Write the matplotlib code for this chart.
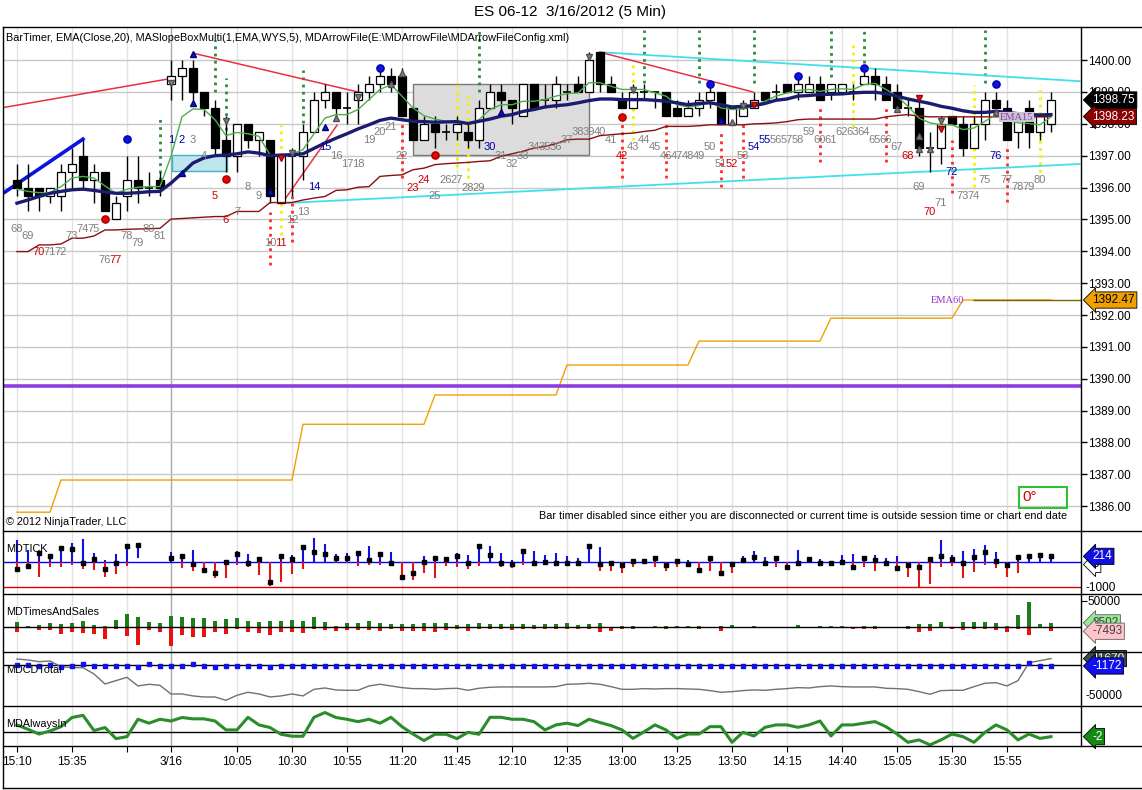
import numpy as np
import matplotlib
matplotlib.use('Agg')
import matplotlib.pyplot as plt
from matplotlib.patches import Rectangle
from matplotlib.lines import Line2D

plt.rcParams['font.family'] = ['Liberation Sans', 'DejaVu Sans']

# ---- price bars: 14 bars of 3/15 (bar 68..81) then 81 bars of 3/16 ----
opens = [1396.25, 1396.00, 1396.00, 1395.75, 1395.75, 1396.50, 1397.00, 1396.25, 1396.50, 1395.00, 1395.75, 1396.25, 1396.00, 1396.25,
         1399.25, 1399.50, 1399.75, 1399.00, 1398.50, 1397.50, 1397.00, 1398.00, 1397.50, 1397.50,
         1395.50, 1397.00, 1397.00, 1397.75, 1398.75, 1399.00, 1398.50, 1398.75, 1399.00, 1399.25,
         1399.50, 1399.50, 1398.50, 1397.50, 1398.00, 1397.75, 1397.75, 1397.75, 1397.50, 1398.50,
         1399.00, 1398.75, 1398.25, 1399.25, 1398.75, 1398.75, 1399.00, 1399.25, 1399.00, 1400.25,
         1399.25, 1398.75, 1398.50, 1399.00, 1399.00, 1399.00, 1398.50, 1398.25, 1398.50, 1398.75,
         1399.00, 1398.00, 1398.25, 1398.50, 1399.00, 1399.00, 1399.25, 1399.00, 1399.00, 1399.25,
         1399.00, 1399.00, 1399.00, 1399.25, 1399.50, 1399.25, 1399.00, 1398.50, 1398.50, 1397.25,
         1397.25, 1398.25, 1398.00, 1397.25, 1398.00, 1398.75, 1398.50, 1397.75, 1398.50, 1397.75,
         1398.00]
highs = [1396.75, 1396.75, 1396.00, 1396.00, 1396.75, 1397.25, 1397.50, 1396.75, 1396.50, 1395.75, 1397.00, 1397.00, 1396.50, 1396.50,
         1400.00, 1400.00, 1400.00, 1399.00, 1398.75, 1398.25, 1398.00, 1398.00, 1397.75, 1397.50,
         1397.00, 1397.25, 1398.00, 1399.00, 1399.25, 1399.00, 1399.00, 1399.25, 1399.50, 1399.75,
         1399.75, 1399.75, 1398.50, 1398.25, 1398.25, 1398.00, 1398.25, 1398.00, 1398.75, 1399.25,
         1399.25, 1398.75, 1399.25, 1399.25, 1399.25, 1399.50, 1399.25, 1399.50, 1400.25, 1400.25,
         1399.50, 1399.00, 1399.25, 1399.25, 1399.00, 1399.00, 1398.75, 1398.75, 1399.00, 1399.25,
         1399.00, 1398.50, 1398.75, 1399.00, 1399.00, 1399.25, 1399.25, 1399.50, 1399.50, 1399.50,
         1399.25, 1399.25, 1399.25, 1399.75, 1399.75, 1399.50, 1399.25, 1398.75, 1398.75, 1397.75,
         1398.25, 1398.25, 1398.25, 1398.25, 1399.00, 1399.00, 1398.75, 1398.25, 1398.75, 1398.25,
         1399.00]
lows = [1395.75, 1395.25, 1395.25, 1395.50, 1395.25, 1396.00, 1396.00, 1395.50, 1395.25, 1395.00, 1395.25, 1395.50, 1395.75, 1395.75,
        1398.75, 1398.75, 1398.75, 1398.25, 1397.00, 1396.50, 1396.50, 1397.25, 1397.00, 1395.50,
        1395.50, 1395.75, 1396.25, 1397.75, 1398.50, 1398.25, 1398.00, 1398.00, 1398.75, 1399.00,
        1399.00, 1398.25, 1397.50, 1397.50, 1397.25, 1397.50, 1397.50, 1397.25, 1397.25, 1398.50,
        1398.25, 1398.00, 1398.25, 1398.50, 1398.50, 1398.50, 1398.75, 1399.00, 1399.00, 1399.00,
        1399.00, 1398.50, 1398.50, 1398.75, 1398.50, 1398.25, 1398.25, 1398.25, 1398.25, 1398.50,
        1398.00, 1398.00, 1398.25, 1398.50, 1398.75, 1398.75, 1399.00, 1398.75, 1399.00, 1398.75,
        1398.75, 1399.00, 1398.75, 1399.25, 1398.75, 1398.75, 1398.50, 1398.25, 1397.00, 1396.50,
        1396.75, 1398.00, 1397.00, 1397.25, 1397.50, 1398.50, 1397.50, 1397.25, 1397.25, 1397.50,
        1397.75]
closes = [1396.00, 1395.75, 1395.75, 1396.00, 1396.50, 1396.75, 1396.25, 1396.50, 1395.25, 1395.50, 1396.25, 1396.00, 1396.00, 1396.00,
          1399.50, 1399.75, 1399.00, 1398.50, 1397.25, 1397.00, 1398.00, 1397.50, 1397.75, 1395.75,
          1397.00, 1397.00, 1397.75, 1398.75, 1399.00, 1398.50, 1398.50, 1399.00, 1399.25, 1399.50,
          1399.25, 1398.25, 1397.50, 1398.00, 1397.75, 1397.75, 1398.00, 1397.50, 1398.50, 1399.00,
          1398.75, 1398.50, 1399.25, 1398.50, 1398.75, 1399.25, 1399.00, 1399.00, 1400.00, 1399.25,
          1399.00, 1398.50, 1399.00, 1399.00, 1399.00, 1398.25, 1398.25, 1398.50, 1398.75, 1399.00,
          1398.00, 1398.50, 1398.50, 1398.75, 1398.75, 1399.00, 1399.00, 1399.25, 1399.25, 1398.75,
          1399.25, 1399.25, 1399.00, 1399.50, 1399.25, 1398.75, 1398.50, 1398.50, 1397.25, 1397.25,
          1398.00, 1398.00, 1397.25, 1398.00, 1398.75, 1398.50, 1397.50, 1398.25, 1397.75, 1398.25,
          1398.75]

ema20 = [1395.51, 1395.61, 1395.72, 1395.82, 1395.88, 1395.93, 1395.95, 1395.91, 1395.86, 1395.82, 1395.82, 1395.84, 1395.87, 1395.88,
         1396.14, 1396.45, 1396.77, 1396.93, 1397.00, 1397.02, 1397.06, 1397.12, 1397.08, 1397.00,
         1397.02, 1397.03, 1397.06, 1397.23, 1397.40, 1397.55, 1397.69, 1397.84, 1397.97, 1398.11,
         1398.18, 1398.13, 1398.08, 1398.07, 1398.05, 1398.06, 1398.07, 1398.01, 1398.08, 1398.15,
         1398.24, 1398.29, 1398.39, 1398.45, 1398.53, 1398.57, 1398.60, 1398.66, 1398.73, 1398.78,
         1398.78, 1398.76, 1398.76, 1398.76, 1398.74, 1398.71, 1398.66, 1398.60, 1398.64, 1398.66,
         1398.60, 1398.53, 1398.55, 1398.57, 1398.64, 1398.74, 1398.78, 1398.87, 1398.89, 1398.92,
         1398.93, 1398.94, 1398.97, 1398.99, 1398.99, 1398.95, 1398.87, 1398.78, 1398.71, 1398.64,
         1398.55, 1398.49, 1398.41, 1398.36, 1398.36, 1398.39, 1398.36, 1398.32, 1398.29, 1398.28,
         1398.29]
fast_ma = [1395.95, 1395.88, 1395.84, 1395.84, 1396.03, 1396.30, 1396.35, 1396.30, 1396.05, 1395.82, 1395.95, 1396.01, 1396.03, 1396.03,
           1396.98, 1398.22, 1398.47, 1398.45, 1398.13, 1397.63, 1397.73, 1397.69, 1397.61, 1397.03,
           1397.02, 1397.06, 1397.19, 1397.69, 1398.18, 1398.29, 1398.29, 1398.45, 1398.76, 1399.08,
           1399.23, 1398.87, 1398.50, 1398.26, 1398.15, 1398.08, 1398.03, 1398.00, 1398.13, 1398.45,
           1398.60, 1398.60, 1398.71, 1398.71, 1398.76, 1398.87, 1398.95, 1398.97, 1399.29, 1399.29,
           1399.18, 1399.08, 1399.08, 1399.08, 1398.97, 1398.87, 1398.60, 1398.53, 1398.57, 1398.71,
           1398.50, 1398.45, 1398.47, 1398.57, 1398.71, 1398.87, 1398.97, 1399.05, 1399.08, 1399.02,
           1399.08, 1399.10, 1399.08, 1399.23, 1399.27, 1399.08, 1398.87, 1398.55, 1398.18, 1398.03,
           1397.97, 1397.97, 1397.82, 1397.87, 1398.08, 1398.29, 1398.13, 1398.03, 1398.01, 1397.97,
           1398.22]
step_line = [1393.99, 1393.99, 1394.20, 1394.20, 1394.23, 1394.41, 1394.41, 1394.48, 1394.67, 1394.67, 1394.69, 1394.70, 1394.71, 1394.72,
             1395.01, 1395.03, 1395.05, 1395.07, 1395.09, 1395.09, 1395.25, 1395.25, 1395.25, 1395.53,
             1395.53, 1395.53, 1395.61, 1395.67, 1395.72, 1395.91, 1395.93, 1396.01, 1396.03, 1396.35,
             1396.38, 1396.40, 1396.56, 1396.61, 1396.72, 1396.75, 1396.77, 1396.79, 1396.82, 1396.84,
             1396.98, 1397.06, 1397.14, 1397.24, 1397.29, 1397.38, 1397.50, 1397.52, 1397.52, 1397.63,
             1397.66, 1397.69, 1397.71, 1397.76, 1397.80, 1397.92, 1397.92, 1397.92, 1397.94, 1397.97,
             1397.97, 1397.97, 1397.97, 1398.00, 1398.01, 1398.03, 1398.07, 1398.13, 1398.15, 1398.15,
             1398.15, 1398.15, 1398.15, 1398.15, 1398.15, 1398.22, 1398.26, 1398.29, 1398.24, 1398.22,
             1398.22, 1398.22, 1398.22, 1398.22, 1398.22, 1398.22, 1398.22, 1398.22, 1398.22, 1398.22,
             1398.23]
ema60 = ([1385.81] * 4 + [1386.82] * 22 + [1388.57] * 12 + [1389.49] * 12 + [1390.43] * 12
         + [1391.18] * 12 + [1391.90] * 12 + [1392.47] * 9)
purple_level = 1389.77

bar_numbers = list(range(68, 82)) + list(range(1, 82))
label_price = [1394.70, 1394.48, 1393.97, 1393.97, 1393.97, 1394.48, 1394.70, 1394.70, 1393.72, 1393.72, 1394.48, 1394.26, 1394.70, 1394.48,
               1397.49, 1397.49, 1397.49, 1396.99, 1395.73, 1394.98, 1395.23, 1396.01, 1395.73, 1394.26,
               1394.26, 1394.98, 1395.23, 1396.01, 1397.27, 1396.99, 1396.74, 1396.74, 1397.49, 1397.74,
               1397.90, 1396.99, 1395.98, 1396.23, 1395.73, 1396.23, 1396.23, 1395.98, 1395.98, 1397.27,
               1396.99, 1396.74, 1396.99, 1397.27, 1397.27, 1397.27, 1397.49, 1397.74, 1397.74, 1397.74,
               1397.49, 1396.99, 1397.27, 1397.49, 1397.27, 1396.99, 1396.99, 1396.99, 1396.99, 1397.27,
               1396.74, 1396.74, 1396.99, 1397.27, 1397.49, 1397.49, 1397.49, 1397.49, 1397.74, 1397.49,
               1397.49, 1397.74, 1397.74, 1397.74, 1397.49, 1397.49, 1397.27, 1396.99, 1396.01, 1395.23,
               1395.51, 1396.48, 1395.73, 1395.73, 1396.23, 1396.99, 1396.23, 1396.01, 1396.01, 1396.23,
               np.nan]
red_label_idx = [2, 9, 18, 19, 24, 36, 37, 55, 65, 81, 83]
blue_label_idx = [14, 15, 27, 28, 43, 67, 68, 85, 89]

# markers (bar index, price)
blue_dots = [(10, 1397.52), (33, 1399.75), (63, 1399.25), (71, 1399.50), (77, 1399.75), (89, 1399.25)]
red_dots = [(8, 1395.00), (19, 1396.26), (38, 1397.02), (55, 1398.21)]
blue_up = [(16, 1400.19), (16, 1398.65), (15, 1396.45), (23, 1395.90), (28, 1397.90), (44, 1398.37), (64, 1398.12)]
gray_down = [(14, 1399.28), (19, 1398.08), (25, 1397.08), (31, 1398.84), (52, 1400.10), (56, 1399.06), (66, 1398.56), (84, 1398.08)]
gray_up = [(29, 1398.18), (34, 1399.25), (35, 1399.60), (65, 1398.05), (80, 1398.46), (82, 1397.61), (82, 1397.20), (83, 1397.20), (89, 1398.37)]
red_down = [(67, 1398.59), (82, 1398.81), (84, 1397.83), (24, 1396.92)]

# dotted signal lines (bar index, from, to)
green_dots = [(13, 1396.23, 1398.21), (18, 1399.00, 1400.63), (19, 1397.80, 1399.43), (26, 1398.02, 1399.69),
              (42, 1399.00, 1400.94), (57, 1399.28, 1400.94), (62, 1399.28, 1400.94), (67, 1399.28, 1400.94),
              (74, 1399.47, 1400.94), (77, 1399.90, 1400.94), (88, 1399.28, 1400.94)]
red_dotted = [(23, 1393.57, 1395.23), (25, 1394.29, 1395.92), (35, 1396.30, 1397.99), (55, 1396.30, 1397.99),
              (59, 1396.30, 1397.99), (64, 1396.01, 1397.74), (66, 1396.30, 1397.99), (73, 1396.80, 1398.49),
              (79, 1396.80, 1398.49), (85, 1395.83, 1397.49), (90, 1395.54, 1397.27)]
yellow_dotted = [(24, 1394.51, 1397.96), (40, 1396.64, 1399.22), (41, 1396.30, 1398.96), (56, 1397.49, 1399.94),
                 (76, 1397.90, 1400.47), (87, 1396.01, 1399.22), (93, 1396.48, 1399.22)]

# drawn lines ((i0, p0), (i1, p1))
red_trend = [((-1.09, 1398.52), (13.6, 1399.40)), ((16.0, 1400.22), (31.0, 1399.00)),
             ((53.0, 1400.25), (66.9, 1399.00)), ((24.1, 1395.51), (29.1, 1397.96))]
cyan_trend = [((53.0, 1400.25), (96.6, 1399.34)), ((24.2, 1395.51), (96.6, 1396.74))]
blue_slope = ((-1.09, 1395.86), (6.0, 1397.52))

# ---- lower panels ----
nan = np.nan
tick_hi = [866, 466, 333, 266, 600, 733, 906, 333, 66, 306, 666, 666, nan, nan,
           400, 226, 466, 0, 0, 0, 440, 306, 93, 0, 226, 266, 666, 933, 706, 293, 333, 426, 626, 360,
           373, 0, 0, 226, 173, 133, 333, 266, 666, 626, 333, 66, 440, 440, 266, 360, 226, 133, 666, 600,
           0, 0, 27, 66, 133, 0, 27, 66, 0, 133, 0, 0, 226, 440, 173, 173, 0, 466, 173, 93,
           0, 266, 306, 226, 266, 133, 226, 0, 0, 93, 866, 266, 426, 493, 666, 400, 0, 266, 226, 266, 306]
tick_lo = [-306, -200, -600, -200, -226, -133, -306, -333, -600, -493, -173, 133, nan, nan,
           0, -266, -360, -466, -666, -666, -133, -200, -533, -973, -800, -493, -306, 0, 0, -66, -66, -160, -133, -133,
           -66, -600, -733, -440, -640, -173, -200, -306, -173, 0, -200, -266, -133, -40, 0, -40, -66, -40, 0, -360,
           -360, -440, -226, 0, -226, -360, -226, -173, -400, -360, -560, -466, 0, 0, -133, -226, -306, -173, 0, -40,
           -66, 0, -226, -226, -360, -40, -266, -626, -1026, -906, -226, -173, -666, -400, -133, -266, -626, -466, 0, 0, 0]
tick_close = [-293, -173, 333, 226, 533, 493, -66, 93, -293, -40, 626, 666, nan, nan,
              133, 226, -106, -333, -440, 0, 293, -66, 93, -826, 226, 93, 600, 400, 293, 133, 133, 360, 66, 306,
              -66, -600, -440, 0, 133, 93, 240, -40, 640, 266, -66, -106, 426, -40, 0, -40, -66, -40, 626, -93,
              -66, -133, 27, 40, 133, -133, 27, -93, -333, 133, -440, -93, 66, 173, -66, 133, -226, -40, 106, -40,
              -66, 0, -200, 160, 66, -40, -266, -133, -226, 93, 226, 93, -66, 200, 400, 40, -133, 173, 226, 266, 214]

ts_buy = [9500, 1900, 4400, 7600, 5700, 8900, 12000, 4400, 2500, 13900, 25300, 19000, 9500, 7600,
          21500, 19000, 17100, 17100, 12700, 15800, 17100, 12700, 9500, 12000,
          12000, 13900, 12700, 19000, 9500, 3200, 7600, 7600, 12000, 8900,
          5700, 5700, 5700, 7600, 7600, 7600, 3800, 5700, 7600, 5700,
          5700, 5700, 5700, 3800, 5700, 5700, 7600, 3800, 5700, 7600,
          1300, 2500, 3200, 1300, 3200, 1900, 3200, 1900, 3200, 1300,
          3200, 3800, 1300, 3200, 300, 1300, 1300, 3800, 300, 2500,
          2500, 1900, 1300, 3200, 3200, 1300, 1300, 3200, 5700, 5700,
          10800, 1300, 9500, 9500, 9500, 7600, 3200, 23400, 48100, 5700,
          8502]
ts_sell = [8200, 1900, 5100, 5100, 13300, 8200, 10100, 12700, 22800, 3800, 16500, 33500, 5100, 8200,
           35400, 14600, 17700, 19000, 8200, 12700, 3800, 8200, 10100, 14600,
           8200, 8200, 11400, 3800, 5100, 6300, 5100, 5100, 5100, 6300,
           3800, 6300, 6300, 6300, 8200, 5100, 3800, 6300, 3800, 3800,
           3800, 5100, 3800, 2500, 3800, 3800, 2500, 2500, 2500, 8200,
           6300, 3800, 2500, 1900, 1900, 2500, 1300, 1300, 2500, 1300,
           6300, 1300, 1300, 1300, 1300, 1300, 1300, 1300, 1300, 1300,
           1300, 1300, 2500, 2500, 2500, 1300, 1300, 3200, 8200, 6300,
           1300, 2500, 5100, 2500, 2500, 5100, 8200, 2500, 14600, 1300,
           7493]

cd_total = [10900, 9200, 6300, 7400, -2300, -4000, -4000, -14900, -32200, -26400, -20700, -35600, -32700, -34500,
            -49400, -49400, -52800, -54600, -54600, -60300, -51700, -46500, -49400, -54600,
            -52800, -49400, -52800, -41400, -39100, -42500, -43100, -43100, -35600, -32700,
            -35600, -38500, -40200, -40200, -41400, -40200, -39600, -43100, -39600, -37900,
            -37300, -37300, -37300, -37300, -37300, -36800, -32700, -32200, -31000, -32700,
            -36800, -41400, -41400, -40200, -40800, -40200, -40200, -40800, -41400, -43600,
            -46500, -45400, -43600, -42500, -43100, -41400, -40200, -38500, -39100, -36800,
            -35600, -36800, -37300, -37300, -37300, -39600, -40200, -41400, -45400, -50000,
            -43600, -43100, -43100, -36800, -31000, -29900, -35600, -26400, 4600, 8000,
            11670]
cd_bar = [550, 550, -600, 550, -2300, -600, 1700, -600, -600, -600, -600, -2300, 2300, -600,
          -1172, -1172, 2300, -1172, -2300, -1172, -1172, -1172, -1172, -2300] + [-1172] * 68 + [3400, -1172, -1172]

always_in = [3.4, 1.4, -0.8, 0.6, 2.6, 6.8, 7.8, 0.8, 2.2, -2.9, -2.0, 6.0, 4.2, 6.0,
             5.2, 6.8, 6.2, 6.2, 5.2, 1.1, 1.1, 6.9, 3.4, 2.2,
             -0.9, -1.8, -1.8, 6.9, 9.1, 6.8, 6.0, 4.9, 6.0, 4.2,
             6.9, 2.6, -0.8, -3.8, -0.9, -0.9, -2.9, 0.0, -0.9, 6.9,
             6.9, 6.0, 6.0, 4.9, 1.1, 3.4, 4.2, 3.1, 6.0, 4.5,
             3.1, 1.1, -2.8, 0.2, 3.4, 1.1, -2.8, -0.8, -0.8, 2.6,
             2.6, -4.6, 0.0, -1.7, 2.3, 3.4, 3.4, 2.3, 3.4, 5.2,
             -1.7, 3.4, 3.4, 4.2, 4.9, 2.6, -0.8, -4.6, -3.5, -5.8,
             -3.5, -0.8, -2.0, -4.6, 0.0, 3.4, 1.1, -3.5, -0.8, -2.8,
             -2.0]

time_ticks = [0, 5, 10, 14, 20, 25, 30, 35, 40, 45, 50, 55, 60, 65, 70, 75, 80, 85, 90]
time_labels = ['15:10', '15:35', '', '3/16', '10:05', '10:30', '10:55', '11:20', '11:45', '12:10',
               '12:35', '13:00', '13:25', '13:50', '14:15', '14:40', '15:05', '15:30', '15:55']

W, H = 1142, 790
fig = plt.figure(figsize=(W / 100, H / 100), dpi=100)
TXT = 7.8


def box(x0, y0, x1, y1):
    return [x0 / W, 1 - y1 / H, (x1 - x0) / W, (y1 - y0) / H]


def fline(x0, y0, x1, y1, **kw):
    fig.add_artist(Line2D([x0 / W, x1 / W], [1 - y0 / H, 1 - y1 / H], transform=fig.transFigure, **kw))


def ftext(x, y, s, **kw):
    fig.text(x / W, 1 - y / H, s, **kw)


ax = fig.add_axes(box(4, 27, 1081, 531))
ax_tick = fig.add_axes(box(4, 531, 1081, 594))
ax_ts = fig.add_axes(box(4, 594, 1081, 652))
ax_cd = fig.add_axes(box(4, 652, 1081, 706))
ax_ai = fig.add_axes(box(4, 706, 1081, 746))
panels = [ax, ax_tick, ax_ts, ax_cd, ax_ai]

n = len(closes)
xs = np.arange(n)
for a in panels:
    a.set_xlim(-1.18, 96.73)
    for s in a.spines.values():
        s.set_visible(False)
    a.tick_params(axis='x', which='both', bottom=False, labelbottom=False)
    for t in time_ticks:
        a.axvline(t, color='#a8a8a8' if t == 14 else '#e2e2e2', lw=1, zorder=0)

# ---- main price panel ----
ax.set_ylim(1385.22, 1401.04)
for p in range(1386, 1401):
    ax.axhline(p, color='#c8c8c8', lw=1, zorder=0)
ax.yaxis.tick_right()
ax.set_yticks(range(1386, 1401))
ax.set_yticklabels(['%.2f' % p for p in range(1386, 1401)])
ax.tick_params(axis='y', length=4, width=1, pad=1, labelsize=8.5, direction='out')

ax.add_patch(Rectangle((36.0, 1397.02), 16.0, 2.23, fc='#dcdcdc', ec='#7a7a7a', lw=1, zorder=1))
ax.add_patch(Rectangle((14.1, 1396.52), 5.0, 0.50, fc='#bfe6ee', ec='#3fb4c4', lw=1, zorder=1))

ax.plot(xs, ema60, color='#f0a000', lw=1, zorder=2)
ax.axhline(purple_level, color='#8e3ee0', lw=2.6, zorder=2)
ax.hlines(ema60[-1], 86.9, 96.73, color='#7a6400', lw=1, zorder=2)

for ln in green_dots:
    ax.vlines(ln[0], ln[1], ln[2], color='#2e8b3e', lw=2, linestyles=(0, (1, 1.6)), zorder=2)
for ln in red_dotted:
    ax.vlines(ln[0], ln[1], ln[2], color='#ff2a2a', lw=2, linestyles=(0, (1, 1.6)), zorder=2)
for ln in yellow_dotted:
    ax.vlines(ln[0], ln[1], ln[2], color='#f5f000', lw=2, linestyles=(0, (1, 1.6)), zorder=2)

for a0, a1 in cyan_trend:
    ax.plot([a0[0], a1[0]], [a0[1], a1[1]], color='#40e0e8', lw=1.3, zorder=2)
for a0, a1 in red_trend:
    ax.plot([a0[0], a1[0]], [a0[1], a1[1]], color='#e8303c', lw=1.1, zorder=2)
ax.plot([blue_slope[0][0], blue_slope[1][0]], [blue_slope[0][1], blue_slope[1][1]], color='#0a14dc', lw=2.6, zorder=2)

for i in range(n):
    o, h, l, c = opens[i], highs[i], lows[i], closes[i]
    ax.vlines(i, l, h, color='black', lw=1, zorder=3)
    if c == o:
        ax.hlines(c, i - 0.38, i + 0.38, color='black', lw=1.2, zorder=3.5)
    else:
        ax.add_patch(Rectangle((i - 0.38, min(o, c)), 0.76, abs(c - o),
                               fc='white' if c > o else 'black', ec='black', lw=0.9, zorder=3.5))

ax.plot(xs, step_line, color='#8b1010', lw=1, zorder=4)
ax.plot(xs, fast_ma, color='#4cae4c', lw=1, zorder=4)
ax.plot(xs, ema20, color='#1c1c6e', lw=2.4, zorder=4)

for i, p in blue_dots:
    ax.plot(i, p, 'o', color='#0a10f0', ms=5.2, mec='#0000a0', zorder=6)
for i, p in red_dots:
    ax.plot(i, p, 'o', color='#ee0000', ms=5.2, mec='#a00000', zorder=6)
for i, p in blue_up:
    ax.plot(i, p, '^', color='#0a1ab4', ms=5, mec='#000080', zorder=6)
for i, p in gray_up:
    ax.plot(i, p, '^', color='#808080', ms=5, mec='#505050', zorder=6)
for i, p in gray_down:
    ax.plot(i, p, 'v', color='#808080', ms=5, mec='#505050', zorder=6)
for i, p in red_down:
    ax.plot(i, p, 'v', color='#e01818', ms=5, mec='#a00000', zorder=6)

for i in range(n):
    if np.isnan(label_price[i]):
        continue
    col = '#7f7f7f'
    if i in red_label_idx:
        col = '#d00000'
    elif i in blue_label_idx:
        col = '#0000a8'
    ax.text(i, label_price[i], str(bar_numbers[i]), color=col, fontsize=8, ha='center', va='center', zorder=6)

ax.text(90.9, 1398.21, 'EMA15', color='#9a30d0', fontsize=7.5, family=['Liberation Serif', 'DejaVu Serif'],
        ha='center', va='center', zorder=7, bbox=dict(fc='#c8c8c8', ec='none', pad=0.6))
ax.text(84.6, ema60[-1], 'EMA60', color='#9a30d0', fontsize=7.5, family=['Liberation Serif', 'DejaVu Serif'],
        ha='center', va='center', zorder=7)


def marker(a, v, s, fc, tc, ec='black'):
    a.annotate(s, xy=(1.0, v), xycoords=('axes fraction', 'data'), xytext=(8, 0),
               textcoords='offset points', va='center', ha='left', fontsize=8.5, color=tc, zorder=8,
               annotation_clip=False,
               bbox=dict(boxstyle='larrow,pad=0.18', fc=fc, ec=ec, lw=0.6))


marker(ax, closes[-1], '%.2f' % closes[-1], 'black', 'white')
marker(ax, step_line[-1], '%.2f' % step_line[-1], '#8b0000', 'white')
marker(ax, ema60[-1], '%.2f' % ema60[-1], '#f0a000', 'black')

# ---- MDTICK ----
ax_tick.set_ylim(-1292, 1228)
ax_tick.axhline(0, color='#0000ff', lw=1, zorder=1)
ax_tick.axhline(-1000, color='#e00000', lw=1, zorder=1)
for i in range(n):
    if np.isnan(tick_close[i]):
        continue
    if tick_lo[i] < 0:
        ax_tick.vlines(i, tick_lo[i], min(0, tick_hi[i]), color='#e41414', lw=1.5, zorder=2)
    if tick_hi[i] > 0:
        ax_tick.vlines(i, max(0, tick_lo[i]), tick_hi[i], color='#1010e0', lw=1.5, zorder=2)
    ax_tick.plot(i, tick_close[i], 's', color='black', ms=3, zorder=3)
ax_tick.yaxis.tick_right()
ax_tick.set_yticks([-1000])
ax_tick.set_yticklabels(['-1000'])
ax_tick.tick_params(axis='y', length=0, pad=3, labelsize=8.5)
marker(ax_tick, -110, '0', 'white', 'black')
marker(ax_tick, tick_close[-1], '%d' % tick_close[-1], '#1010e0', 'white')

# ---- MDTimesAndSales ----
ax_ts.set_ylim(-46960, 63300)
ax_ts.bar(xs, ts_buy, width=0.3, color='#1e7e1e', zorder=2)
ax_ts.bar(xs, [-v for v in ts_sell], width=0.3, color='#ea1010', zorder=2)
ax_ts.axhline(0, color='black', lw=1, zorder=3)
ax_ts.yaxis.tick_right()
ax_ts.set_yticks([50000])
ax_ts.set_yticklabels(['50000'])
ax_ts.tick_params(axis='y', length=4, pad=1, labelsize=8.5)
marker(ax_ts, ts_buy[-1], '%d' % ts_buy[-1], '#98e898', '#404040', ec='#606060')
marker(ax_ts, -ts_sell[-1], '%d' % -ts_sell[-1], '#ffc4cc', '#404040', ec='#606060')

# ---- MDCDTotal ----
ax_cd.set_ylim(-70180, 22980)
ax_cd.axhline(0, color='black', lw=1, zorder=1)
ax_cd.plot(xs, cd_total, color='#707070', lw=1, zorder=2)
ax_cd.plot(xs, cd_bar, 's', color='#1010f0', ms=3, zorder=3)
ax_cd.yaxis.tick_right()
ax_cd.set_yticks([-50000])
ax_cd.set_yticklabels(['-50000'])
ax_cd.tick_params(axis='y', length=0, pad=3, labelsize=8.5)
marker(ax_cd, cd_total[-1], '%d' % cd_total[-1], '#3c4c4c', 'white')
marker(ax_cd, cd_bar[-1], '%d' % cd_bar[-1], '#1010f0', 'white')

# ---- MDAlwaysIn ----
ax_ai.set_ylim(-6.3, 12.1)
ax_ai.axhline(0, color='black', lw=1, zorder=1)
ax_ai.plot(xs, always_in, color='#2a8c2a', lw=2.2, zorder=2)
ax_ai.set_yticks([])
marker(ax_ai, always_in[-1], '%d' % round(always_in[-1]), '#138a13', 'white')
ax_ai.tick_params(axis='x', which='both', bottom=True, labelbottom=True, length=4, pad=3, labelsize=8.5)
ax_ai.set_xticks(time_ticks)
ax_ai.set_xticklabels(time_labels)

# ---- frame and texts ----
for y in (27, 531, 594, 652, 706, 746):
    fline(3, y, 1142, y, color='black', lw=1)
fline(1081, 27, 1081, 746, color='black', lw=1)
fline(3, 27, 3, 788, color='black', lw=1)
fline(3, 788, 1142, 788, color='black', lw=1)

ftext(570, 12, 'ES 06-12  3/16/2012 (5 Min)', ha='center', va='center', fontsize=11)
ftext(6, 38, 'BarTimer, EMA(Close,20), MASlopeBoxMulti(1,EMA,WYS,5), MDArrowFile(E:\\MDArrowFile\\MDArrowFileConfig.xml)',
      ha='left', va='center', fontsize=TXT)
ftext(6, 522, '\u00a9 2012 NinjaTrader, LLC', ha='left', va='center', fontsize=TXT)
ftext(1067, 516, 'Bar timer disabled since either you are disconnected or current time is outside session time or chart end date',
      ha='right', va='center', fontsize=TXT)
fig.add_artist(Rectangle((1019 / W, 1 - 508 / H), 48 / W, 21 / H, transform=fig.transFigure,
                         fill=False, ec='#30c030', lw=1.5))
ftext(1022, 497, '0\u00b0', ha='left', va='center', fontsize=11, color='#d00000')
ftext(6, 549, 'MDTICK', ha='left', va='center', fontsize=TXT)
ftext(6, 612, 'MDTimesAndSales', ha='left', va='center', fontsize=TXT)
ftext(6, 670, 'MDCDTotal', ha='left', va='center', fontsize=TXT)
ftext(6, 724, 'MDAlwaysIn', ha='left', va='center', fontsize=TXT)

fig.savefig('out.png', dpi=100)
